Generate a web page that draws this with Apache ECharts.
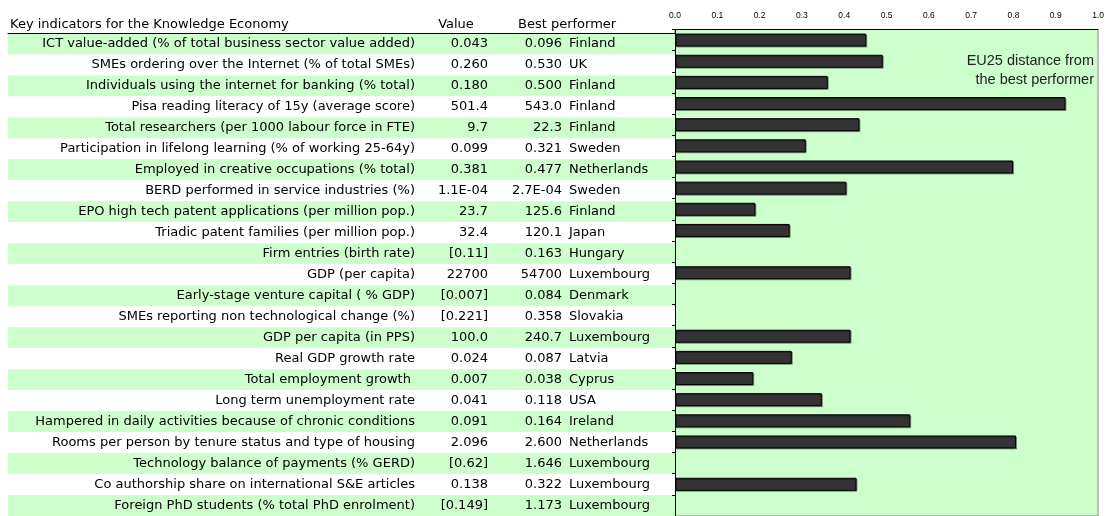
<!DOCTYPE html>
<html>
<head>
<meta charset="utf-8">
<script src="https://cdn.jsdelivr.net/npm/echarts@6/dist/echarts.min.js"></script>
<style>
  html, body { margin: 0; padding: 0; background: #fff; overflow: hidden; }
  #chart { width: 1107px; height: 516px; }
</style>
</head>
<body>
<div id="chart"></div>
<script>
// Key indicators for the Knowledge Economy -- EU25 vs best performer
const indicators = [
  'ICT value-added (% of total business sector value added)',
  'SMEs ordering over the Internet (% of total SMEs)',
  'Individuals using the internet for banking (% total)',
  'Pisa reading literacy of 15y (average score)',
  'Total researchers (per 1000 labour force in FTE)',
  'Participation in lifelong learning (% of working 25-64y)',
  'Employed in creative occupations (% total)',
  'BERD performed in service industries (%)',
  'EPO high tech patent applications (per million pop.)',
  'Triadic patent families (per million pop.)',
  'Firm entries (birth rate)',
  'GDP (per capita)',
  'Early-stage venture capital ( % GDP)',
  'SMEs reporting non technological change (%)',
  'GDP per capita (in PPS)',
  'Real GDP growth rate',
  'Total employment growth ',
  'Long term unemployment rate',
  'Hampered in daily activities because of chronic conditions',
  'Rooms per person by tenure status and type of housing',
  'Technology balance of payments (% GERD)',
  'Co authorship share on international S&E articles',
  'Foreign PhD students (% total PhD enrolment)'
];
const euValues = ['0.043', '0.260', '0.180', '501.4', '9.7', '0.099', '0.381', '1.1E-04', '23.7', '32.4',
  '[0.11]', '22700', '[0.007]', '[0.221]', '100.0', '0.024', '0.007', '0.041', '0.091', '2.096',
  '[0.62]', '0.138', '[0.149]'];
const bestValues = ['0.096', '0.530', '0.500', '543.0', '22.3', '0.321', '0.477', '2.7E-04', '125.6', '120.1',
  '0.163', '54700', '0.084', '0.358', '240.7', '0.087', '0.038', '0.118', '0.164', '2.600',
  '1.646', '0.322', '1.173'];
const bestCountries = ['Finland', 'UK', 'Finland', 'Finland', 'Finland', 'Sweden', 'Netherlands', 'Sweden',
  'Finland', 'Japan', 'Hungary', 'Luxembourg', 'Denmark', 'Slovakia', 'Luxembourg', 'Latvia', 'Cyprus',
  'USA', 'Ireland', 'Netherlands', 'Luxembourg', 'Luxembourg', 'Luxembourg'];
// EU25 distance from the best performer (bar lengths)
const distance = [0.452, 0.491, 0.361, 0.923, 0.436, 0.309, 0.799, 0.405, 0.19, 0.271,
  null, 0.415, null, null, 0.415, 0.276, 0.185, 0.347, 0.556, 0.806,
  null, 0.429, null];
const xTicks = [0, 1, 0.1]; // min, max, interval

const rows = indicators.map((d, i) => i);
const tableFont = '"DejaVu Sans", Verdana, sans-serif';

const myChart = echarts.init(document.getElementById('chart'));

// one hidden category axis per table column, all sharing the table grid
function colAxis(formatter, offset, inside, extra) {
  return Object.assign({
    type: 'category',
    gridIndex: 0,
    data: rows,
    inverse: true,
    position: 'left',
    offset: offset,
    axisLine: { show: false },
    axisTick: { show: false },
    splitLine: { show: false },
    axisLabel: {
      show: true,
      interval: 0,
      inside: inside,
      margin: 3,
      color: '#000',
      fontFamily: tableFont,
      fontSize: 13,
      formatter: formatter
    }
  }, extra || {});
}

const option = {
  backgroundColor: '#fff',
  animation: false,
  grid: [
    { left: 8, top: 33.5, width: 667, height: 485 },
    { left: 675, top: 29.5, width: 427, height: 490, show: true,
      backgroundColor: '#ccffcc', borderColor: '#8a8a8a', borderWidth: 1 }
  ],
  graphic: [
    { type: 'text', x: 10, y: 25,
      style: { text: 'Key indicators for the Knowledge Economy', fill: '#000', font: '13px ' + tableFont,
        verticalAlign: 'middle' } },
    { type: 'text', x: 456, y: 25,
      style: { text: 'Value', fill: '#000', font: '13px ' + tableFont, align: 'center', verticalAlign: 'middle' } },
    { type: 'text', x: 518, y: 25,
      style: { text: 'Best performer', fill: '#000', font: '13px ' + tableFont, verticalAlign: 'middle' } },
    { type: 'text', x: 1094, y: 51,
      style: { text: 'EU25 distance from\nthe best performer', fill: '#222', align: 'right',
        lineHeight: 19.5, font: '14.5px "Liberation Sans", Arial, sans-serif' } }
  ],
  xAxis: [
    {
      type: 'value', gridIndex: 0, min: 0, max: 1, position: 'top',
      axisLine: { show: true, lineStyle: { color: '#000', width: 1 } },
      axisTick: { show: false }, axisLabel: { show: false }, splitLine: { show: false }
    },
    {
      type: 'value', gridIndex: 1, min: xTicks[0], max: xTicks[1], interval: xTicks[2], position: 'top',
      axisLine: { show: true, lineStyle: { color: '#000', width: 1 } },
      axisTick: { show: false },
      splitLine: { show: false },
      axisLabel: {
        color: '#000', fontSize: 8.5, margin: 9,
        fontFamily: '"Liberation Sans", Arial, sans-serif',
        formatter: v => v.toFixed(1)
      }
    }
  ],
  yAxis: [
    // row backgrounds + indicator names
    colAxis(i => indicators[i], -410, false, {
      splitArea: { show: true, areaStyle: { color: ['#ccffcc', '#ffffff'] } }
    }),
    colAxis(i => euValues[i], -483, false),
    colAxis(i => bestValues[i], -557, false),
    colAxis(i => bestCountries[i], -558, true),
    {
      type: 'category', gridIndex: 1, data: rows, inverse: true,
      axisLine: { show: true, lineStyle: { color: '#000', width: 1 } },
      axisTick: { show: true, length: 3, lineStyle: { color: '#000' } },
      axisLabel: { show: false },
      splitLine: { show: false }
    }
  ],
  series: [
    {
      name: 'EU25 distance from the best performer',
      type: 'bar',
      xAxisIndex: 1,
      yAxisIndex: 4,
      data: distance,
      barWidth: 13,
      itemStyle: {
        color: '#333333',
        borderColor: '#000',
        borderWidth: 1,
        shadowColor: 'rgba(0,0,0,0.35)',
        shadowOffsetX: 1,
        shadowOffsetY: 1
      }
    }
  ]
};
myChart.setOption(option);
</script>
</body>
</html>
